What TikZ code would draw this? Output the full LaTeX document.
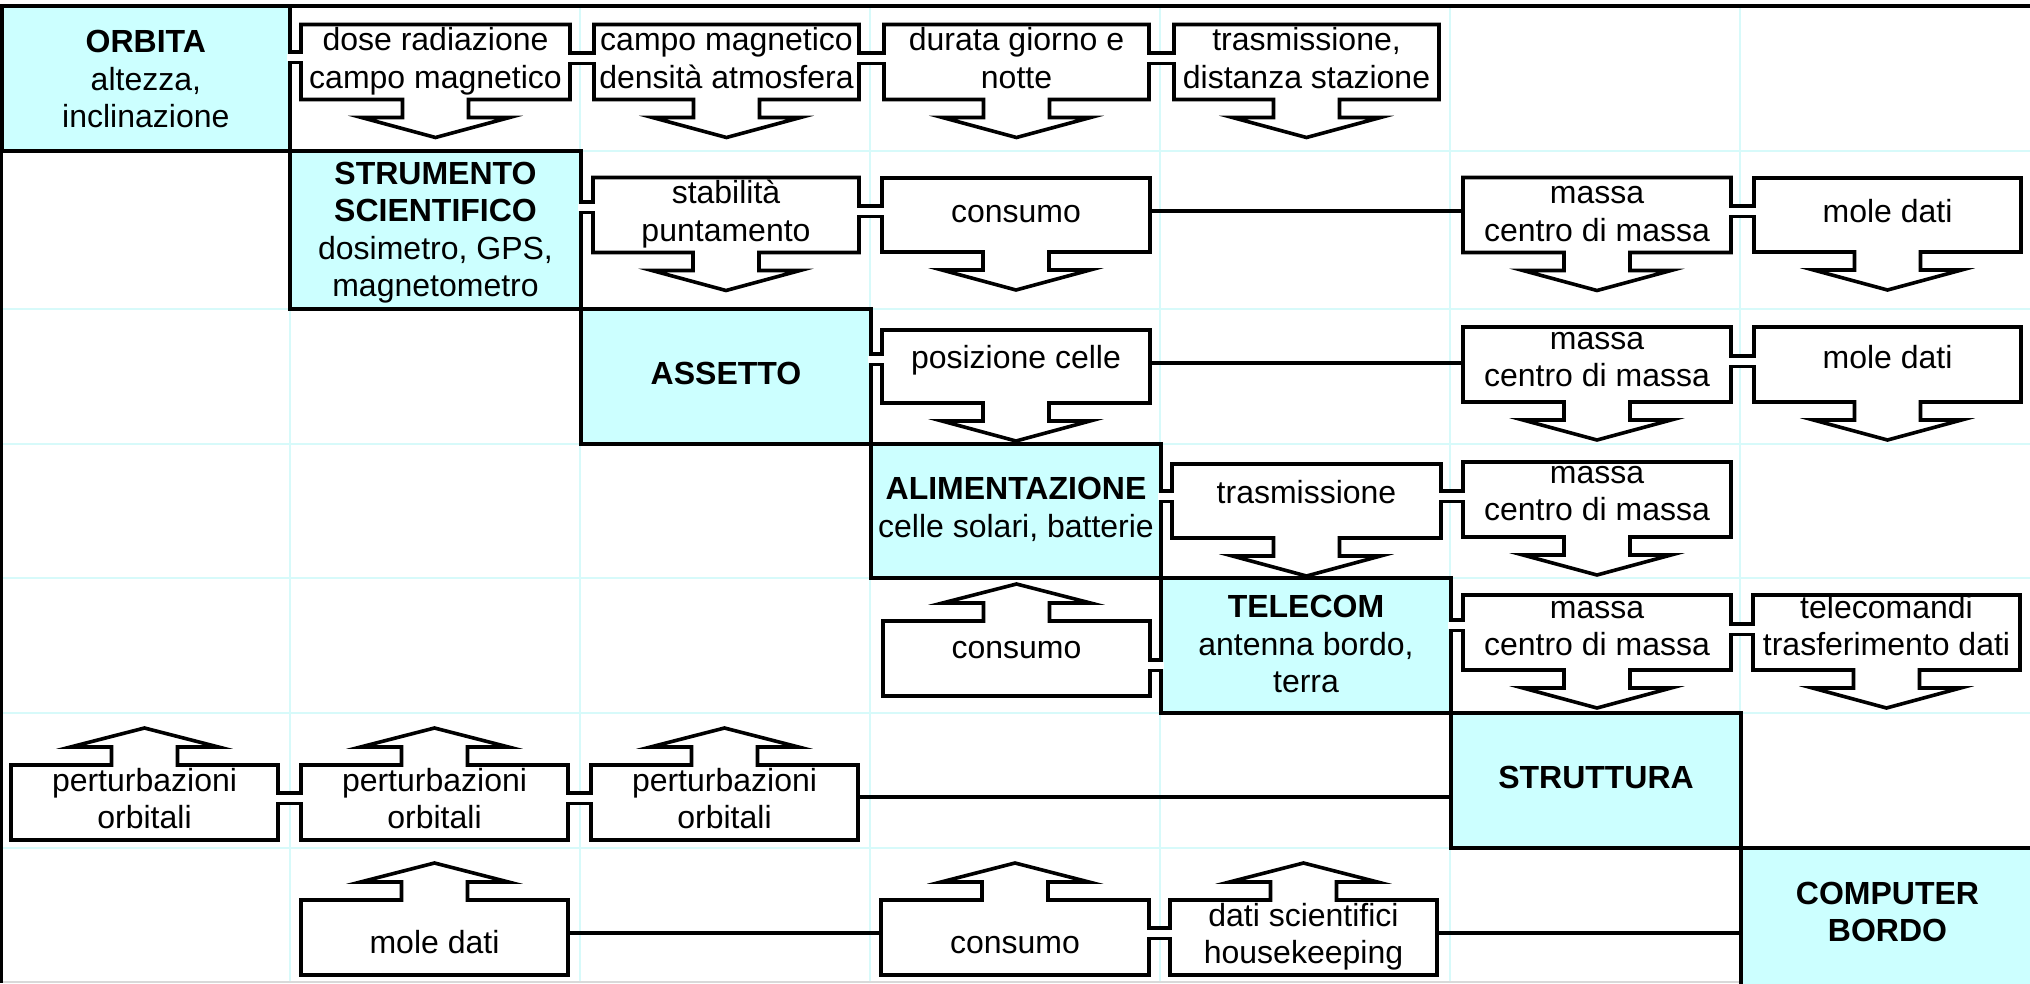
\documentclass[tikz,border=0pt]{standalone}
\usepackage{fontspec}
\setmainfont{Liberation Sans}
\usetikzlibrary{calc}
\definecolor{diagfill}{RGB}{204,255,255}
\definecolor{gridc}{RGB}{215,250,250}
\pgfdeclarelayer{gridlayer}
\pgfdeclarelayer{bglayer}
\pgfsetlayers{gridlayer,bglayer,main}
\newcommand\fsz{\fontsize{32}{37.5}\selectfont}
\newcommand\TX[2]{\raisebox{#1}[\height][\depth]{\begin{tabular}{@{}c@{}}#2\end{tabular}}}
\tikzset{
  cbox/.style={draw=black, line width=3.6pt, fill=white, line join=miter},
  ab/.style={inner sep=0pt, outer sep=0pt, font=\fsz},
  diag/.style={draw=black, line width=4.6pt, fill=diagfill, inner sep=0pt, outer sep=0pt, font=\fsz},
  link/.style={line width=4.8pt},
  chl/.style={line width=3.2pt},
  gridl/.style={draw=gridc, line width=2.5pt},
}
% callout box node: name, x1, y1, x2, y2, text
\newcommand\AB[6]{\node[ab, minimum width={(#4-#2)*1pt}, minimum height={(#5-#3)*1pt}] (#1) at ({(#2+#4)/2},{(#3+#5)/2}) {#6};}
\newcommand\DB[6]{\node[diag, minimum width={(#4-#2)*1pt}, minimum height={(#5-#3)*1pt}] (#1) at ({(#2+#4)/2},{(#3+#5)/2}) {#6};}
% down arrow callout outline
\newcommand\dcall[1]{\begin{pgfonlayer}{bglayer}\draw[cbox] (#1.north west) -- (#1.north east) -- (#1.south east) -- ($(#1.south)+(33,0)$) -- ($(#1.south)+(33,18)$) -- ($(#1.south)+(74,18)$) -- ($(#1.south)+(0,38)$) -- ($(#1.south)+(-74,18)$) -- ($(#1.south)+(-33,18)$) -- ($(#1.south)+(-33,0)$) -- (#1.south west) -- cycle;\end{pgfonlayer}}
% up arrow callout outline
\newcommand\ucall[1]{\begin{pgfonlayer}{bglayer}\draw[cbox] (#1.south west) -- (#1.north west) -- ($(#1.north)+(-33,0)$) -- ($(#1.north)+(-33,-18)$) -- ($(#1.north)+(-74,-18)$) -- ($(#1.north)+(0,-37)$) -- ($(#1.north)+(74,-18)$) -- ($(#1.north)+(33,-18)$) -- ($(#1.north)+(33,0)$) -- (#1.north east) -- (#1.south east) -- cycle;\end{pgfonlayer}}
% channel connector: left node, right node, y
\newcommand\CH[3]{%
  \fill[white] ($(#1.east |- 0,#3)+(-3,-3.5)$) rectangle ($(#2.west |- 0,#3)+(3,3.5)$);
  \draw[chl] ($(#1.east |- 0,#3)+(-1.8,-5.1)$) -- ($(#2.west |- 0,#3)+(1.8,-5.1)$);
  \draw[chl] ($(#1.east |- 0,#3)+(-1.8,5.1)$) -- ($(#2.west |- 0,#3)+(1.8,5.1)$);}
\newcommand\LK[3]{\draw[link] (#1.east |- 0,#3) -- (#2.west |- 0,#3);}
\begin{document}
\begin{tikzpicture}[x=1pt,y=-1pt]
\useasboundingbox (0,0) rectangle (2030,983);
\clip (0,0) rectangle (2030,983);
% grid
\begin{pgfonlayer}{gridlayer}
\foreach \x in {290,580,...,1740} \draw[gridl] (\x,6) -- (\x,983);
\foreach \y in {151,309,444,578,713,848} \draw[gridl] (0,\y) -- (2030,\y);
\draw[gray!30, line width=1.5pt] (0,982) -- (2030,982);
\end{pgfonlayer}
% frame lines
\draw[line width=3.4pt] (0,6) -- (2030,6);
\draw[line width=3.4pt] (1.7,6) -- (1.7,983);
% diagonal boxes
\DB{orb}{1.7}{6}{290}{151}{\TX{-4pt}{\textbf{ORBITA}\\altezza,\\inclinazione}}
\DB{str}{290}{151}{581}{309}{\TX{-3pt}{\textbf{STRUMENTO}\\\textbf{SCIENTIFICO}\\dosimetro, GPS,\\magnetometro}}
\DB{ass}{581}{309}{871}{444}{\TX{0pt}{\textbf{ASSETTO}}}
\DB{ali}{871}{444}{1161}{578}{\TX{0pt}{\textbf{ALIMENTAZIONE}\\celle solari, batterie}}
\DB{tel}{1161}{578}{1451}{713}{\TX{-2pt}{\textbf{TELECOM}\\antenna bordo,\\terra}}
\DB{stt}{1451}{713}{1741}{848}{\TX{0pt}{\textbf{STRUTTURA}}}
\DB{cmp}{1741}{848}{2034}{987}{\TX{2pt}{\textbf{COMPUTER}\\\textbf{BORDO}}}
% row 1
\AB{b11}{301}{25}{570}{99}{\TX{0pt}{dose radiazione\\campo magnetico}}
\AB{b12}{594}{25}{859}{99}{\TX{0pt}{campo magnetico\\densità atmosfera}}
\AB{b13}{884}{25}{1149}{99}{\TX{0pt}{durata giorno e\\notte}}
\AB{b14}{1174}{25}{1439}{99}{\TX{0pt}{trasmissione,\\distanza stazione}}
% row 2
\AB{b22}{593}{178}{859}{252}{\TX{0pt}{stabilità\\puntamento}}
\AB{b23}{882}{178}{1150}{252}{\TX{0pt}{consumo}}
\AB{b25}{1463}{178}{1731}{252}{\TX{0pt}{massa\\centro di massa}}
\AB{b26}{1754}{178}{2021}{252}{\TX{0pt}{mole dati}}
% row 3
\AB{b33}{882}{330}{1150}{403}{\TX{6pt}{posizione celle}}
\AB{b35}{1463}{327}{1731}{402}{\TX{4pt}{massa\\centro di massa}}
\AB{b36}{1754}{327}{2021}{402}{\TX{4pt}{mole dati}}
% row 4
\AB{b44}{1172}{464}{1441}{538}{\TX{5.5pt}{trasmissione}}
\AB{b45}{1463}{462}{1731}{537}{\TX{5pt}{massa\\centro di massa}}
% row 5
\AB{b53}{883}{621}{1150}{696}{\TX{8pt}{consumo}}
\AB{b55}{1463}{596}{1731}{669}{\TX{3pt}{massa\\centro di massa}}
\AB{b56}{1753}{596}{2020}{669}{\TX{3pt}{telecomandi\\trasferimento dati}}
% row 6
\AB{b60}{11}{765}{278}{840}{\TX{0pt}{perturbazioni\\orbitali}}
\AB{b61}{301}{765}{568}{840}{\TX{0pt}{perturbazioni\\orbitali}}
\AB{b62}{591}{765}{858}{840}{\TX{0pt}{perturbazioni\\orbitali}}
% row 7
\AB{b71}{301}{900}{568}{975}{\TX{-8pt}{mole dati}}
\AB{b73}{881}{900}{1149}{975}{\TX{-8pt}{consumo}}
\AB{b74}{1170}{900}{1437}{975}{\TX{0pt}{dati scientifici\\housekeeping}}
% callout outlines
\dcall{b11}\dcall{b12}\dcall{b13}\dcall{b14}
\dcall{b22}\dcall{b23}\dcall{b25}\dcall{b26}
\dcall{b33}\dcall{b35}\dcall{b36}
\dcall{b44}\dcall{b45}
\ucall{b53}\dcall{b55}\dcall{b56}
\ucall{b60}\ucall{b61}\ucall{b62}
\ucall{b71}\ucall{b73}\ucall{b74}
% long links
\LK{b23}{b25}{211}
\LK{b33}{b35}{363}
\LK{b62}{stt}{797}
\LK{b71}{b73}{933}
\LK{b74}{cmp}{933}
% channels
\CH{orb}{b11}{57}
\CH{b11}{b12}{58}
\CH{b12}{b13}{58}
\CH{b13}{b14}{58}
\CH{str}{b22}{207}
\CH{b22}{b23}{211}
\CH{b25}{b26}{211}
\CH{ass}{b33}{359}
\CH{b35}{b36}{361}
\CH{ali}{b44}{496}
\CH{b44}{b45}{496}
\CH{b53}{tel}{665}
\CH{tel}{b55}{625}
\CH{b55}{b56}{629}
\CH{b60}{b61}{798}
\CH{b61}{b62}{798}
\CH{b73}{b74}{933}
\end{tikzpicture}
\end{document}
